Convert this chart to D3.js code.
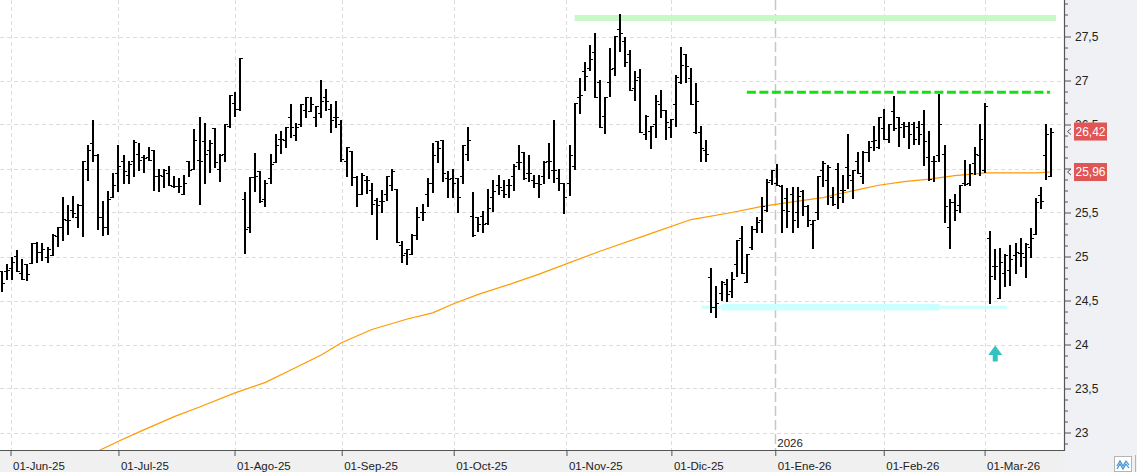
<!DOCTYPE html>
<html>
<head>
<meta charset="utf-8">
<script src="https://cdn.jsdelivr.net/npm/d3@7"></script>
<style>
html, body { margin: 0; padding: 0; background: #fff; }
svg { display: block; font-family: "Liberation Sans", Arial, sans-serif; }
</style>
</head>
<body>
<svg id="chart" width="1137" height="472"></svg>
<script>
// daily OHLC, one entry per session (end of May 2025 .. mid March 2026)
const open = [
  24.83, 24.83, 24.87, 25.01, 24.81, 24.91, 24.93, 25.15, 25.05, 25.00, 25.02, 25.23,
  25.34, 25.42, 25.53, 25.45, 25.59, 26.00, 26.29, 26.15, 25.45, 25.33, 25.68, 25.95,
  26.08, 25.93, 26.08, 26.16, 26.13, 26.13, 26.21, 25.92, 25.92, 25.95, 25.80, 25.80,
  25.71, 26.08, 26.00, 26.10, 26.31, 26.21, 26.46, 25.99, 26.16, 26.48, 26.74, 26.68,
  25.65, 25.34, 25.90, 25.97, 25.65, 25.89, 26.07, 26.34, 26.32, 26.58, 26.38, 26.50,
  26.66, 26.65, 26.58, 26.63, 26.81, 26.68, 26.58, 26.50, 26.09, 26.20, 25.90, 25.71,
  25.87, 25.76, 25.64, 25.63, 25.71, 25.81, 25.77, 25.13, 25.04, 25.03, 25.25, 25.50,
  25.71, 25.84, 26.31, 26.32, 25.89, 25.89, 25.89, 25.92, 26.16, 25.46, 25.45, 25.46,
  25.38, 25.68, 25.81, 25.76, 25.81, 25.91, 26.07, 26.19, 25.95, 25.87, 25.83, 25.91,
  26.09, 25.98, 25.89, 25.84, 25.83, 26.03, 26.81, 27.11, 27.14, 27.32, 26.98, 26.60,
  26.98, 27.14, 27.58, 27.45, 27.30, 26.92, 27.04, 26.39, 26.43, 26.51, 26.73, 26.67,
  26.47, 26.73, 26.98, 27.30, 27.03, 26.42, 26.41, 26.21, 24.77, 24.43, 24.58, 24.69,
  24.61, 24.91, 25.21, 24.71, 25.11, 25.31, 25.42, 25.53, 25.87, 25.83, 25.80, 25.67,
  25.71, 25.50, 25.75, 25.57, 25.37, 25.50, 25.98, 25.87, 25.68, 25.99, 25.76, 26.02,
  25.87, 26.09, 25.92, 26.19, 26.31, 26.25, 26.46, 26.34, 26.65, 26.58, 26.50, 26.48,
  26.50, 26.47, 26.50, 26.13, 26.09, 26.15, 26.16, 25.34, 25.62, 25.59, 25.83, 25.83,
  26.06, 26.15, 25.98, 25.21, 24.89, 24.53, 24.81, 24.85, 25.02, 25.04, 24.99, 25.11,
  25.26, 25.70, 26.15, 25.92
];
const high = [
  24.83, 24.91, 24.99, 25.07, 24.97, 24.91, 25.15, 25.17, 25.15, 25.11, 25.26, 25.34,
  25.68, 25.59, 25.69, 25.60, 26.08, 26.27, 26.55, 26.16, 25.63, 25.74, 25.95, 26.27,
  26.15, 26.09, 26.32, 26.29, 26.15, 26.24, 26.21, 26.00, 26.00, 26.03, 25.92, 25.89,
  25.93, 26.09, 26.45, 26.58, 26.52, 26.32, 26.46, 26.16, 26.50, 26.84, 26.87, 27.26,
  25.73, 25.90, 26.18, 25.97, 25.87, 26.16, 26.39, 26.43, 26.47, 26.73, 26.52, 26.73,
  26.81, 26.81, 26.71, 27.01, 26.90, 26.73, 26.77, 26.55, 26.24, 26.20, 25.92, 25.95,
  25.92, 25.83, 25.66, 25.76, 25.92, 26.00, 25.77, 25.18, 25.09, 25.26, 25.56, 25.60,
  25.89, 26.29, 26.31, 26.32, 25.97, 25.99, 25.89, 26.27, 26.47, 25.73, 25.45, 25.52,
  25.77, 25.87, 25.93, 25.87, 25.88, 26.05, 26.27, 26.19, 26.15, 25.93, 25.93, 26.08,
  26.29, 26.55, 26.00, 25.84, 26.27, 26.74, 27.03, 27.21, 27.40, 27.54, 27.01, 26.81,
  27.37, 27.51, 27.75, 27.49, 27.35, 27.11, 27.13, 26.61, 26.48, 26.84, 26.89, 26.67,
  26.56, 27.06, 27.38, 27.30, 27.14, 26.97, 26.48, 26.32, 24.87, 24.66, 24.72, 24.74,
  24.82, 25.19, 25.35, 25.03, 25.35, 25.45, 25.68, 25.88, 25.98, 26.05, 25.81, 25.78,
  25.79, 25.79, 25.76, 25.59, 25.42, 25.92, 26.09, 26.04, 25.79, 26.06, 25.93, 26.39,
  25.98, 26.19, 26.20, 26.31, 26.48, 26.59, 26.68, 26.51, 26.82, 26.59, 26.53, 26.53,
  26.53, 26.54, 26.67, 26.43, 26.14, 26.85, 26.27, 25.65, 25.71, 25.81, 26.10, 26.05,
  26.24, 26.51, 26.74, 25.29, 25.09, 25.10, 25.03, 25.13, 25.15, 25.21, 25.15, 25.32,
  25.67, 25.79, 26.51, 26.46
];
const low = [
  24.61, 24.74, 24.74, 24.83, 24.75, 24.73, 24.93, 24.94, 24.96, 24.94, 25.02, 25.12,
  25.19, 25.26, 25.45, 25.33, 25.23, 25.87, 26.08, 25.31, 25.25, 25.26, 25.68, 25.74,
  25.83, 25.83, 25.92, 25.98, 25.96, 26.10, 25.76, 25.75, 25.79, 25.81, 25.79, 25.73,
  25.71, 25.91, 26.00, 25.60, 25.84, 25.96, 26.02, 25.86, 26.08, 26.47, 26.60, 26.66,
  25.04, 25.28, 25.75, 25.62, 25.57, 25.83, 26.07, 26.18, 26.24, 26.36, 26.32, 26.48,
  26.58, 26.65, 26.48, 26.58, 26.67, 26.42, 26.47, 26.08, 25.92, 25.81, 25.57, 25.71,
  25.72, 25.48, 25.20, 25.51, 25.64, 25.76, 25.17, 24.94, 24.91, 25.03, 25.20, 25.41,
  25.57, 25.73, 26.07, 25.86, 25.68, 25.68, 25.51, 25.84, 26.10, 25.23, 25.29, 25.28,
  25.37, 25.52, 25.71, 25.68, 25.68, 25.76, 26.00, 25.88, 25.86, 25.79, 25.68, 25.83,
  25.89, 25.85, 25.76, 25.49, 25.70, 25.99, 26.63, 26.89, 27.12, 26.81, 26.47, 26.40,
  26.82, 27.06, 27.33, 27.16, 26.89, 26.78, 26.42, 26.34, 26.23, 26.36, 26.58, 26.34,
  26.36, 26.48, 26.97, 26.98, 26.73, 26.40, 26.08, 26.08, 24.37, 24.31, 24.51, 24.49,
  24.54, 24.78, 24.81, 24.71, 25.09, 25.28, 25.28, 25.52, 25.82, 25.81, 25.28, 25.33,
  25.28, 25.34, 25.47, 25.35, 25.10, 25.43, 25.80, 25.60, 25.59, 25.55, 25.62, 25.78,
  25.67, 25.95, 25.83, 26.08, 26.21, 26.23, 26.33, 26.30, 26.44, 26.26, 26.36, 26.23,
  26.28, 26.28, 26.04, 25.87, 25.86, 26.08, 25.39, 25.10, 25.42, 25.50, 25.81, 25.81,
  25.94, 25.93, 25.96, 24.47, 24.74, 24.53, 24.67, 24.68, 24.81, 24.89, 24.77, 24.99,
  25.26, 25.55, 25.88, 25.92
];
const close = [
  24.70, 24.85, 24.94, 24.83, 24.75, 24.80, 25.15, 25.05, 25.09, 25.09, 25.24, 25.33,
  25.43, 25.42, 25.49, 25.59, 26.08, 26.21, 26.15, 25.45, 25.33, 25.65, 25.81, 26.03,
  25.97, 26.05, 26.30, 26.10, 26.12, 26.10, 25.91, 25.93, 25.98, 25.81, 25.80, 25.80,
  25.84, 25.98, 26.32, 26.09, 26.16, 26.29, 26.07, 26.15, 26.50, 26.84, 26.68, 27.26,
  25.31, 25.90, 25.92, 25.63, 25.84, 26.05, 26.27, 26.34, 26.47, 26.47, 26.47, 26.73,
  26.81, 26.73, 26.71, 26.77, 26.77, 26.55, 26.58, 26.11, 26.24, 25.90, 25.71, 25.93,
  25.87, 25.60, 25.59, 25.63, 25.91, 25.97, 25.17, 25.02, 25.08, 25.25, 25.45, 25.50,
  25.84, 26.15, 26.23, 25.95, 25.88, 25.83, 25.68, 26.27, 26.32, 25.25, 25.37, 25.37,
  25.55, 25.74, 25.79, 25.71, 25.81, 26.03, 26.07, 25.89, 25.95, 25.83, 25.82, 26.07,
  26.09, 25.98, 25.83, 25.68, 26.15, 26.74, 26.84, 27.05, 27.25, 26.81, 26.47, 26.81,
  27.13, 27.51, 27.54, 27.21, 26.89, 27.01, 26.42, 26.60, 26.48, 26.77, 26.67, 26.53,
  26.56, 27.04, 27.18, 27.16, 26.73, 26.77, 26.23, 26.16, 24.43, 24.47, 24.71, 24.57,
  24.75, 25.19, 24.81, 25.03, 25.31, 25.39, 25.57, 25.85, 25.98, 25.81, 25.53, 25.52,
  25.42, 25.69, 25.57, 25.41, 25.42, 25.91, 26.06, 26.02, 25.60, 25.68, 25.76, 25.93,
  25.98, 25.95, 26.19, 26.25, 26.32, 26.59, 26.34, 26.50, 26.46, 26.47, 26.48, 26.39,
  26.34, 26.39, 26.31, 25.88, 26.08, 26.50, 25.57, 25.62, 25.53, 25.81, 25.82, 25.95,
  26.17, 26.34, 26.71, 24.78, 24.89, 24.94, 25.02, 24.97, 25.05, 25.04, 25.14, 25.21,
  25.62, 25.63, 26.39, 26.42
];

// long moving average at some sessions
const maIdx = [17, 19, 23, 28, 34, 39, 46, 52, 57, 63, 67, 73, 80, 85, 89, 94, 101, 106,
  118, 128, 136, 144, 150, 156, 162, 165, 169, 173, 178, 183, 188, 192, 194, 204, 207];
const maVal = [22.76, 22.79, 22.90, 23.03, 23.18, 23.29, 23.45, 23.57, 23.71, 23.88, 24.02, 24.17, 24.29, 24.36, 24.46, 24.57, 24.70, 24.80,
  25.06, 25.26, 25.42, 25.50, 25.57, 25.62, 25.67, 25.71, 25.76, 25.81, 25.85, 25.88, 25.92, 25.94, 25.95, 25.95, 25.96];

// month starts, as session index
const monthPos = [1.7, 23, 45.9, 67.05, 89.15, 111.4, 132.1, 152.6, 174, 193.9];
const monthLabels = ["01-Jun-25", "01-Jul-25", "01-Ago-25", "01-Sep-25", "01-Oct-25",
  "01-Nov-25", "01-Dic-25", "01-Ene-26", "01-Feb-26", "01-Mar-26"];
const yearPos = 152.6;
const yearLabel = "2026";

const yTicks = [23, 23.5, 24, 24.5, 25, 25.5, 26, 26.5, 27, 27.5];

// drawn levels: [first session, last session, price]
const resistZone = [113, 208, 27.71];
const resistLine = [147, 206.8, 26.866];
const supportZone = [142, 185, 24.423];
const supportLine = [138, 198.3, 24.423];
const signalArrow = [196, 23.99];

const lastPrice = 26.42;
const lastMa = 25.96;

function main() {
    const W = 1137, H = 472, plotR = 1064, plotB = 450;
    const svg = d3.select("#chart");
    const n = open.length;
    const x = d3.scaleLinear().domain([0, n - 1]).range([1.9, 1.9 + (n - 1) * 5.068]);
    const y = d3.scaleLinear().domain([23, 27.5]).range([432.5, 36.5]);
    const fmt = d => d3.format("~g")(d).replace(".", ",");

    svg.append("rect").attr("width", W).attr("height", H).attr("fill", "#fff");
    svg.append("rect").attr("x", plotR).attr("width", W - plotR).attr("height", H).attr("fill", "#eff1f4");
    svg.append("rect").attr("y", plotB).attr("width", plotR).attr("height", H - plotB).attr("fill", "#f0f0f0");

    svg.append("clipPath").attr("id", "plotclip")
        .append("rect").attr("width", plotR).attr("height", plotB);
    const g = svg.append("g").attr("clip-path", "url(#plotclip)");

    // grid
    g.append("g").selectAll("line").data(yTicks).join("line")
        .attr("x1", 0).attr("x2", plotR)
        .attr("y1", d => Math.round(y(d)) + 0.5).attr("y2", d => Math.round(y(d)) + 0.5)
        .attr("stroke", "#dcdcdc").attr("stroke-dasharray", "4,3");
    g.append("g").selectAll("line").data(monthPos.filter(d => d !== yearPos)).join("line")
        .attr("x1", d => Math.round(x(d)) + 0.5).attr("x2", d => Math.round(x(d)) + 0.5)
        .attr("y1", 0).attr("y2", plotB)
        .attr("stroke", "#dcdcdc").attr("stroke-dasharray", "4,3");
    g.append("line")
        .attr("x1", Math.round(x(yearPos)) + 0.5).attr("x2", Math.round(x(yearPos)) + 0.5)
        .attr("y1", 0).attr("y2", plotB)
        .attr("stroke", "#c6c6c6").attr("stroke-width", 1.5).attr("stroke-dasharray", "10,4");
    g.append("text").attr("x", x(yearPos) + 2).attr("y", 447)
        .attr("font-size", 11.5).attr("fill", "#222").text(yearLabel);

    // levels
    const level = (lv, color, width, dash) => {
        const ln = g.append("line")
            .attr("x1", x(lv[0])).attr("x2", x(lv[1]))
            .attr("y1", y(lv[2])).attr("y2", y(lv[2]))
            .attr("stroke", color).attr("stroke-width", width);
        if (dash) ln.attr("stroke-dasharray", dash);
    };
    level(resistZone, "#c8f7c8", 6);
    level(supportLine, "#ccffff", 3);
    level(supportZone, "#ccffff", 6.5);
    level(resistLine, "#14e014", 3, "9,3.5");

    // moving average
    const line = d3.line().x(d => x(d[0])).y(d => y(d[1]));
    g.append("path").datum(maIdx.map((d, i) => [d, maVal[i]]))
        .attr("d", line).attr("fill", "none")
        .attr("stroke", "#ff9a00").attr("stroke-width", 1.2);

    // ohlc bars
    const bars = g.append("g").attr("stroke", "#000").attr("shape-rendering", "crispEdges");
    for (let i = 0; i < n; i++) {
        const cx = Math.round(x(i));
        bars.append("line").attr("x1", cx).attr("x2", cx)
            .attr("y1", Math.round(y(high[i]))).attr("y2", Math.round(y(low[i])) + 1)
            .attr("stroke-width", 2);
        const yo = Math.round(y(open[i])) + 0.5, yc = Math.round(y(close[i])) + 0.5;
        bars.append("line").attr("x1", cx - 3).attr("x2", cx).attr("y1", yo).attr("y2", yo).attr("stroke-width", 1);
        bars.append("line").attr("x1", cx).attr("x2", cx + 3).attr("y1", yc).attr("y2", yc).attr("stroke-width", 1);
    }

    // signal arrow
    const ax = x(signalArrow[0]), ay = y(signalArrow[1]);
    g.append("path")
        .attr("d", `M${ax},${ay} L${ax + 7},${ay + 9.5} L${ax + 2.5},${ay + 9.5} L${ax + 2.5},${ay + 16} ` +
            `L${ax - 2.5},${ay + 16} L${ax - 2.5},${ay + 9.5} L${ax - 7},${ay + 9.5} Z`)
        .attr("fill", "#33c2c4");

    // right axis; the 26 label sits fully under the moving average tag, as in the source
    const shown = yTicks.filter(d => Math.abs(y(d) - y(lastMa)) > 8);
    const minor = d3.range(22.875, 27.95, 0.125).filter(d => Math.abs(d * 2 - Math.round(d * 2)) > 1e-6);
    svg.append("g").attr("transform", `translate(${plotR},0)`)
        .call(d3.axisRight(y).tickValues(minor).tickSize(4).tickFormat(""))
        .call(a => a.select(".domain").remove())
        .call(a => a.selectAll("line").attr("stroke", "#555"));
    svg.append("g").attr("transform", `translate(${plotR},0)`)
        .call(d3.axisRight(y).tickValues(yTicks).tickSize(7).tickFormat(d => shown.includes(d) ? fmt(d) : ""))
        .call(a => a.select(".domain").remove())
        .call(a => a.selectAll("line").attr("stroke", "#555"))
        .call(a => a.selectAll("text").attr("x", 11).attr("font-size", 12)
            .attr("font-family", "Liberation Sans, Arial, sans-serif").attr("fill", "#222"));
    svg.append("line").attr("x1", plotR + 0.5).attr("x2", plotR + 0.5).attr("y1", 0).attr("y2", plotB + 1)
        .attr("stroke", "#555").attr("stroke-width", 1.2);

    // bottom axis
    svg.append("g").attr("transform", `translate(0,${plotB})`)
        .call(d3.axisBottom(x).tickValues(monthPos).tickSize(6).tickFormat((d, i) => monthLabels[i]))
        .call(a => a.select(".domain").remove())
        .call(a => a.selectAll("line").attr("stroke", "#555"))
        .call(a => a.selectAll("text").attr("text-anchor", "start").attr("x", 2).attr("y", 19.5)
            .attr("dy", null).attr("font-size", 11.5)
            .attr("font-family", "Liberation Sans, Arial, sans-serif").attr("fill", "#222"));
    svg.append("line").attr("x1", 0).attr("x2", plotR + 1).attr("y1", plotB + 0.5).attr("y2", plotB + 0.5)
        .attr("stroke", "#555").attr("stroke-width", 1.2);

    // last value tags
    [lastPrice, lastMa].forEach(v => {
        const cy = y(v);
        svg.append("path").attr("d", `M1071,${cy - 3} L1067.5,${cy} L1071,${cy + 3}`)
            .attr("fill", "none").attr("stroke", "#555").attr("stroke-width", 1);
        svg.append("rect").attr("x", 1074).attr("y", cy - 9).attr("width", 33).attr("height", 18)
            .attr("fill", "#e05555");
        svg.append("text").attr("x", 1090.5).attr("y", cy).attr("dy", "0.36em")
            .attr("text-anchor", "middle").attr("font-size", 12).attr("fill", "#fff").text(fmt(v));
    });

    // small chart-type button in the corner
    svg.append("rect").attr("x", 1114.5).attr("y", 456.5).attr("width", 17).attr("height", 15)
        .attr("fill", "#fff").attr("stroke", "#b4b4b4");
    svg.append("polyline").attr("points", "1117,466 1120,461 1123,466 1126,461 1129,465")
        .attr("fill", "none").attr("stroke", "#3d8fd8").attr("stroke-width", 1.2);
    svg.append("polyline").attr("points", "1117,469 1120,464 1123,469 1126,464 1129,468")
        .attr("fill", "none").attr("stroke", "#3d8fd8").attr("stroke-width", 1.2);
    svg.append("line").attr("x1", 1135.5).attr("x2", 1135.5).attr("y1", 455).attr("y2", 472).attr("stroke", "#b4b4b4");
}
main();
</script>
</body>
</html>
